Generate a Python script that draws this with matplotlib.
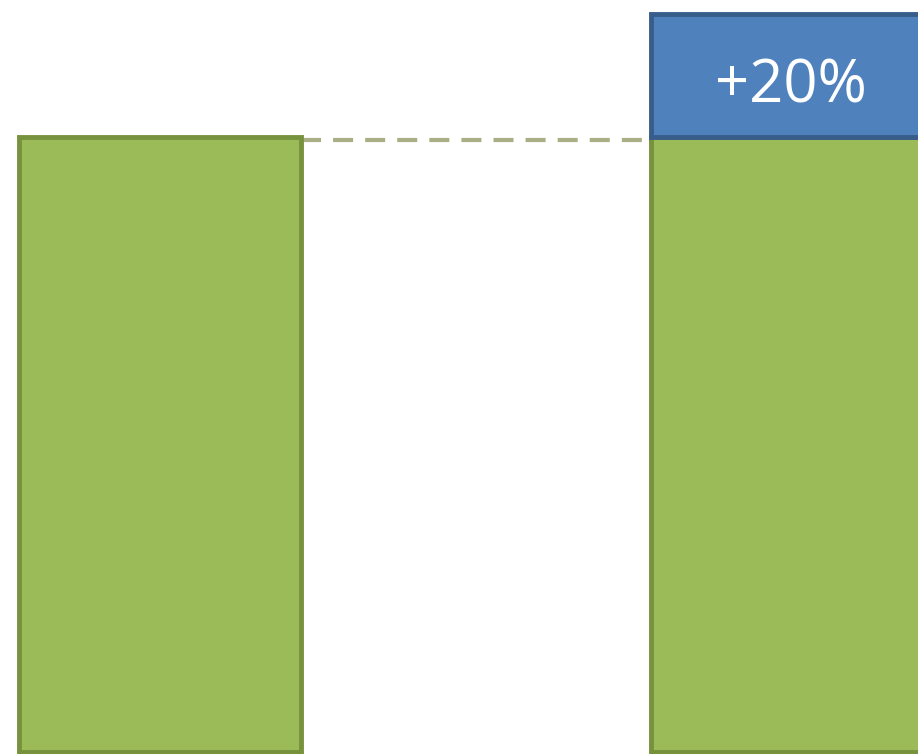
import matplotlib.pyplot as plt

# bar values (left = base, right = base + increase)
positions = [0, 1]
base_values = [100, 100]
increase = [0, 20]
increase_label = "+20%"

green = "#9BBB59"
green_edge = "#76923C"
blue = "#4F81BD"
blue_edge = "#385D8A"

fig = plt.figure(figsize=(9.18, 7.54), dpi=100)
ax = fig.add_axes([0, 0, 1, 1])

width = 0.446
ax.bar(positions, base_values, width=width, color=green, edgecolor=green_edge, linewidth=3.5)
ax.bar(positions[1], increase[1], bottom=base_values[1], width=width,
       color=blue, edgecolor=blue_edge, linewidth=3.5)

# dashed connector from the left bar top to the right bar
ax.plot([positions[0] + width / 2, positions[1] - width / 2], [base_values[0] - 0.5, base_values[0] - 0.5],
        color="#A9AE84", linestyle=(0, (4.8, 2.9)), linewidth=3, zorder=0)

ax.text(positions[1] - 0.002, 108.3, increase_label,
        color="white", fontsize=43, ha="center", va="center", family="Open Sans")

ax.set_xlim(-0.253, 1.199)
ax.set_ylim(-0.3, 122.3)
ax.axis("off")

fig.savefig("out.png", dpi=100)
